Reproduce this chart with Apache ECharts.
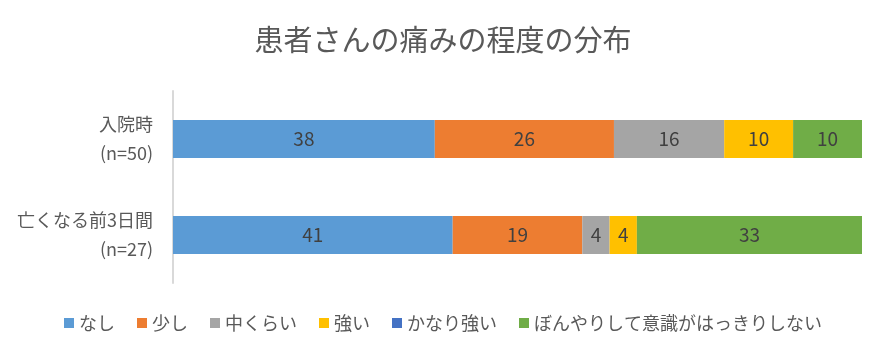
<!DOCTYPE html>
<html>
<head>
<meta charset="utf-8">
<script src="https://cdn.jsdelivr.net/npm/echarts@6/dist/echarts.min.js"></script>
<style>html,body{margin:0;padding:0;background:#fff;}#c{width:886px;height:355px;}</style>
</head>
<body>
<div id="c"></div>
<script>
var categories = ['入院時\n(n=50)', '亡くなる前3日間\n(n=27)'];
var seriesNames = ['なし', '少し', '中くらい', '強い', 'かなり強い', 'ぼんやりして意識がはっきりしない'];
var nashi = [38, 41];
var sukoshi = [26, 19];
var nakakurai = [16, 4];
var tsuyoi = [10, 4];
var kanariTsuyoi = [0, 0];
var bonyari = [10, 33];
var colors = ['#5B9BD5', '#ED7D31', '#A5A5A5', '#FFC000', '#4472C4', '#70AD47'];

var allValues = [nashi, sukoshi, nakakurai, tsuyoi, kanariTsuyoi, bonyari];
var totals = categories.map(function (c, i) {
  return allValues.reduce(function (s, arr) { return s + arr[i]; }, 0);
});
var font = '"Noto Sans CJK JP", "Noto Sans", sans-serif';
var numFont = '"Liberation Sans Narrow", "Noto Sans CJK JP", sans-serif';

var series = allValues.map(function (arr, k) {
  return {
    name: seriesNames[k],
    type: 'bar',
    stack: 'total',
    barWidth: 38,
    itemStyle: { color: colors[k] },
    label: {
      show: true,
      position: 'inside',
      color: '#404040',
      fontSize: 19,
      fontFamily: numFont,
      formatter: function (p) { return arr[p.dataIndex] === 0 ? '' : String(arr[p.dataIndex]); }
    },
    data: arr.map(function (v, i) { return v / totals[i] * 100; })
  };
});

var chart = echarts.init(document.getElementById('c'));
chart.setOption({
  animation: false,
  title: {
    text: '患者さんの痛みの程度の分布',
    left: 'center',
    top: 20,
    textStyle: { color: '#595959', fontSize: 29, fontWeight: 'normal', fontFamily: font }
  },
  legend: {
    data: seriesNames,
    bottom: 18,
    left: 'center',
    itemWidth: 10,
    itemHeight: 10,
    itemGap: 22,
    icon: 'rect',
    textStyle: { color: '#595959', fontSize: 18, fontFamily: font }
  },
  grid: { left: 173, right: 24, top: 91, height: 192, containLabel: false },
  xAxis: {
    type: 'value',
    min: 0,
    max: 100,
    show: false
  },
  yAxis: {
    type: 'category',
    data: categories,
    inverse: true,
    axisLine: { show: true, lineStyle: { color: '#D9D9D9', width: 2 } },
    axisTick: { show: false },
    axisLabel: {
      color: '#595959',
      fontSize: 18,
      lineHeight: 29,
      align: 'right',
      margin: 20,
      fontFamily: font
    }
  },
  series: series
});
</script>
</body>
</html>
